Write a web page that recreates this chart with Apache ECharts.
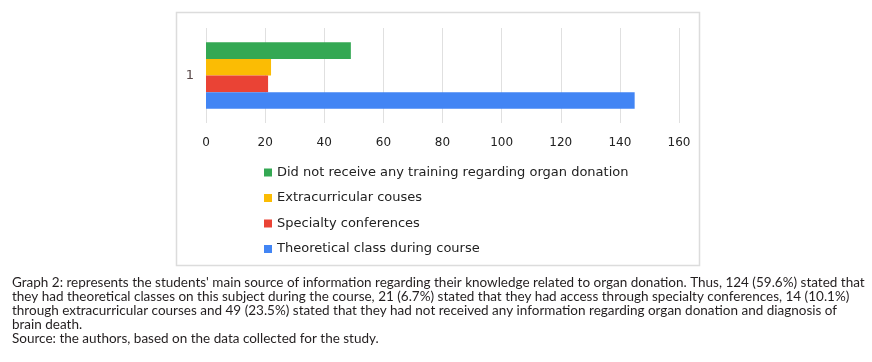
<!DOCTYPE html>
<html>
<head>
<meta charset="utf-8">
<script src="https://cdn.jsdelivr.net/npm/echarts@6/dist/echarts.min.js"></script>
<style>
html,body{margin:0;padding:0;background:#fff;}
#chart{width:872px;height:362px;}
</style>
</head>
<body>
<div id="chart"></div>
<script>
const categories = ['1'];
const seriesNames = [
  'Did not receive any training regarding organ donation',
  'Extracurricular couses',
  'Specialty conferences',
  'Theoretical class during course'
];
const seriesValues = [
  [49],
  [22],
  [21],
  [145]
];
const seriesColors = ['#34A853', '#FBBC04', '#EA4335', '#4285F4'];
const xTicks = { min: 0, max: 160, interval: 20 };
const captionLines = [
  "Graph 2: represents the students' main source of information regarding their knowledge related to organ donation. Thus, 124 (59.6%) stated that",
  "they had theoretical classes on this subject during the course, 21 (6.7%) stated that they had access through specialty conferences, 14 (10.1%)",
  "through extracurricular courses and 49 (23.5%) stated that they had not received any information regarding organ donation and diagnosis of",
  "brain death.",
  "Source: the authors, based on the data collected for the study."
];

const chart = echarts.init(document.getElementById('chart'), null, {renderer: 'canvas'});
const series = seriesNames.map((name, i) => ({
  name: name,
  type: 'bar',
  data: seriesValues[i],
  barGap: '0%',
  barCategoryGap: '30%',
  itemStyle: { color: seriesColors[i] },
  emphasis: { disabled: true }
}));

chart.setOption({
  animation: false,
  backgroundColor: '#fff',
  grid: { left: 206, right: 193, top: 28, height: 95, containLabel: false },
  xAxis: {
    type: 'value',
    min: xTicks.min, max: xTicks.max, interval: xTicks.interval,
    axisLine: { show: false },
    axisTick: { show: false },
    splitLine: { show: true, lineStyle: { color: '#e0e0e0', width: 1 } },
    axisLabel: { color: '#222', fontFamily: 'DejaVu Sans', fontSize: 12, margin: 14 }
  },
  yAxis: {
    type: 'category',
    inverse: true,
    data: categories,
    axisLine: { show: false },
    axisTick: { show: false },
    splitLine: { show: false },
    axisLabel: { color: '#5a4a4a', fontFamily: 'DejaVu Sans', fontSize: 13, margin: 12 }
  },
  legend: {
    orient: 'vertical',
    left: 259, top: 161,
    icon: 'rect',
    itemWidth: 8, itemHeight: 8, itemGap: 12.5,
    data: seriesNames,
    textStyle: { color: '#222', fontFamily: 'DejaVu Sans', fontSize: 13 },
    selectedMode: false
  },
  graphic: [
    {
      type: 'rect',
      shape: { x: 176.5, y: 12.5, width: 523, height: 253 },
      style: { fill: null, stroke: '#dcdcdc', lineWidth: 1.5 },
      z: -1, silent: true
    },
    {
      type: 'text',
      left: 12, top: 276,
      style: {
        text: captionLines.join('\n'),
        fill: '#231f20',
        font: '13.5px Lato',
        lineHeight: 13.8
      },
      silent: true
    }
  ],
  series: series
});
</script>
</body>
</html>
